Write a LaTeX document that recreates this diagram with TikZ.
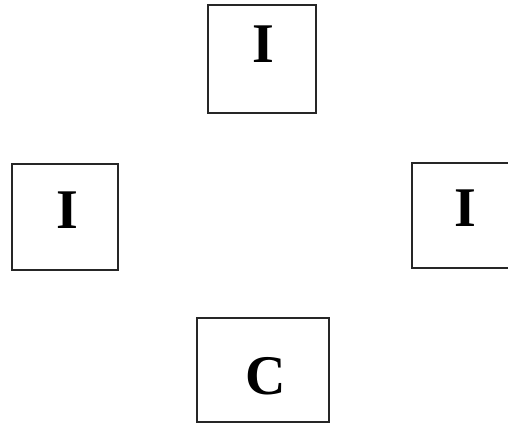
\documentclass[tikz,border=0pt]{standalone}
\usepackage{fontspec}
\setmainfont{Liberation Serif}
\begin{document}
\begin{tikzpicture}[x=1pt,y=-1pt,
  boxsq/.style={draw=black!85,line width=1.8pt,rectangle,inner sep=0pt},
  letter/.style={inner sep=0pt,font=\fontsize{56}{60}\selectfont\bfseries}]
\useasboundingbox (0,0) rectangle (508,425);
\node[boxsq,minimum width=108pt,minimum height=108pt] (top) at (262,59) {};
\node[boxsq,minimum width=106pt,minimum height=106pt] (left) at (65,217) {};
\node[boxsq,minimum width=108pt,minimum height=105pt] (right) at (466,215.5) {};
\node[boxsq,minimum width=132pt,minimum height=104pt] (bottom) at (263,370) {};
\node[letter] (ltop) at (263,44) {I};
\node[letter] (lleft) at (67,210) {I};
\node[letter] (lright) at (465,208) {I};
\node[letter] (lbottom) at (266,376) {C};
\end{tikzpicture}
\end{document}
